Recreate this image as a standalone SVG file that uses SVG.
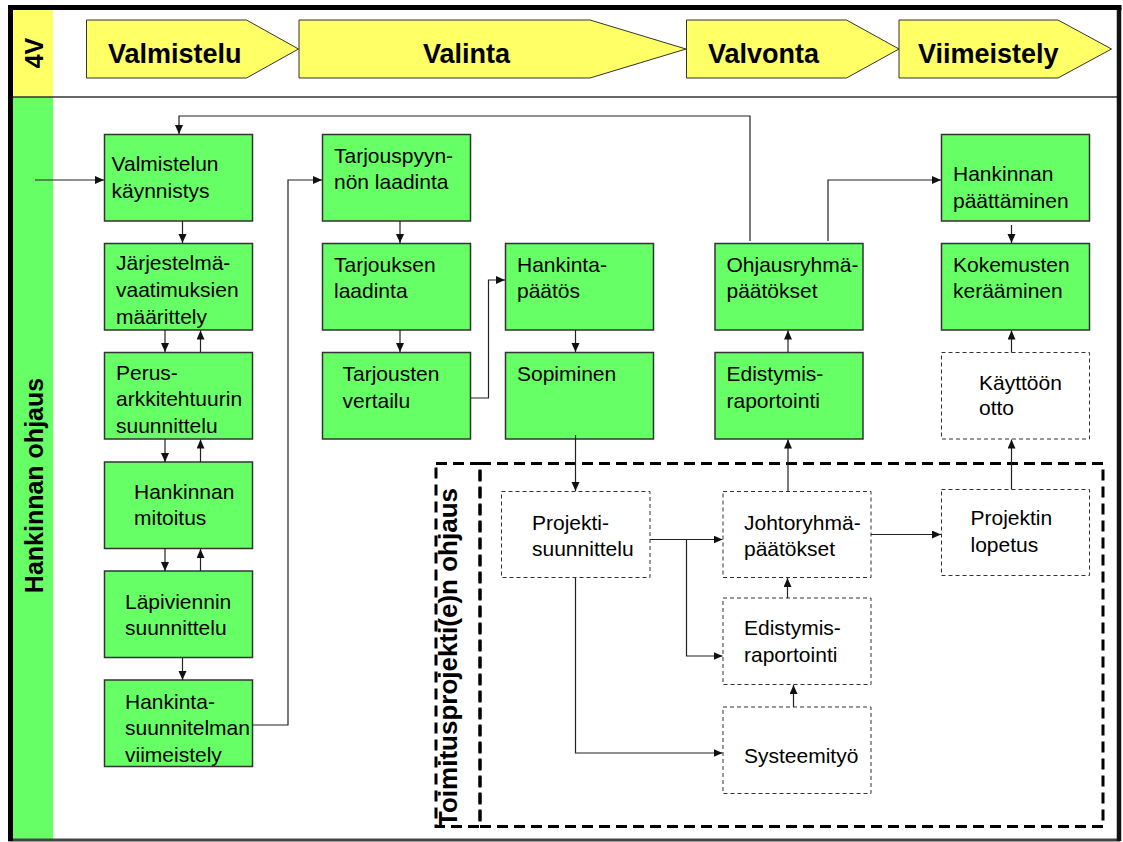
<svg xmlns="http://www.w3.org/2000/svg" width="1123" height="842" viewBox="0 0 1123 842">
<defs>
<marker id="ah" markerWidth="10" markerHeight="9" refX="9" refY="4" orient="auto" markerUnits="userSpaceOnUse">
<path d="M0,0 L9,4 L0,8 z" fill="#111"/>
</marker>
<style>
.ph{fill:#FFFF66;stroke:#333;stroke-width:1}
.phl{font-family:"Liberation Sans",Arial,sans-serif;font-weight:bold;font-size:27px;fill:#000}
.vl{font-family:"Liberation Sans",Arial,sans-serif;font-weight:bold;font-size:25px;fill:#000}
.g{fill:#66FF66;stroke:#333;stroke-width:1.5}
.d{fill:#fff;stroke:#333;stroke-width:1;stroke-dasharray:4 3}
.t{font-family:"Liberation Sans",Arial,sans-serif;font-size:21px;fill:#000}
.big{fill:none;stroke:#000;stroke-width:3;stroke-dasharray:11 6}
.c{fill:none;stroke:#222;stroke-width:1.2}
</style>
</defs>
<rect x="0" y="0" width="1123" height="842" fill="#fff"/>
<!-- frame -->
<g id="frame">
<rect x="13" y="10" width="1104" height="829" fill="#fff"/>
<rect x="13" y="10" width="40" height="87" fill="#FFFF66"/>
<rect x="13" y="97" width="40" height="742" fill="#66FF66"/>
<line x1="13" y1="97" x2="1117" y2="97" stroke="#333" stroke-width="1.5"/>
<line x1="8" y1="840" x2="1120" y2="840" stroke="#444" stroke-width="3"/>
<line x1="1119" y1="8" x2="1119" y2="841" stroke="#111" stroke-width="4.5"/>
<line x1="8" y1="7.5" x2="1121.5" y2="7.5" stroke="#000" stroke-width="5"/>
<line x1="10.5" y1="5" x2="10.5" y2="841" stroke="#000" stroke-width="5"/>
<text class="vl" text-anchor="middle" transform="translate(43,53) rotate(-90)">4V</text>
<text class="vl" text-anchor="middle" transform="translate(43,485.5) rotate(-90)">Hankinnan ohjaus</text>
</g>
<!-- phases -->
<g id="phase-valmistelu">
<polygon class="ph" points="86.5,20 246.5,20 298.5,49 246.5,78 86.5,78"/>
<text class="phl" x="108" y="63">Valmistelu</text>
</g>
<g id="phase-valinta">
<polygon class="ph" points="299,20 590,20 686,49 590,78 299,78"/>
<text class="phl" x="423" y="63">Valinta</text>
</g>
<g id="phase-valvonta">
<polygon class="ph" points="686.5,20 846.5,20 899,49 846.5,78 686.5,78"/>
<text class="phl" x="708" y="63">Valvonta</text>
</g>
<g id="phase-viimeistely">
<polygon class="ph" points="899,20 1058,20 1111.5,49 1058,78 899,78"/>
<text class="phl" x="918" y="63">Viimeistely</text>
</g>
<!-- project control area -->
<g id="toimitusprojekti">
<rect class="big" x="436" y="463.5" width="44" height="363"/>
<rect class="big" x="480" y="463.5" width="623" height="363"/>
<text class="vl" style="font-size:26px" text-anchor="middle" transform="translate(457,657.5) rotate(-90)">Toimitusprojekti(e)n ohjaus</text>
</g>
<!-- column 1 -->
<g id="n-valmistelun">
<rect class="g" x="104.5" y="134.5" width="148" height="86.5"/>
<text class="t" x="111.5" y="171">Valmistelun</text>
<text class="t" x="111.5" y="197.5">käynnistys</text>
</g>
<g id="n-jarjestelma">
<rect class="g" x="104.5" y="243.5" width="148" height="86.5"/>
<text class="t" x="116" y="270">Järjestelmä-</text>
<text class="t" x="116" y="296.5">vaatimuksien</text>
<text class="t" x="116" y="323.5">määrittely</text>
</g>
<g id="n-perus">
<rect class="g" x="104.5" y="352.5" width="148" height="86.5"/>
<text class="t" x="116" y="379.5">Perus-</text>
<text class="t" x="116" y="406">arkkitehtuurin</text>
<text class="t" x="116" y="433">suunnittelu</text>
</g>
<g id="n-mitoitus">
<rect class="g" x="104.5" y="462" width="148" height="86.5"/>
<text class="t" x="134" y="499">Hankinnan</text>
<text class="t" x="134" y="525">mitoitus</text>
</g>
<g id="n-lapiviennin">
<rect class="g" x="104.5" y="571" width="148" height="86.5"/>
<text class="t" x="125" y="608.5">Läpiviennin</text>
<text class="t" x="125" y="635">suunnittelu</text>
</g>
<g id="n-hankintasuunnitelma">
<rect class="g" x="104.5" y="680" width="148" height="86.5"/>
<text class="t" x="125" y="708.5">Hankinta-</text>
<text class="t" x="125" y="735">suunnitelman</text>
<text class="t" x="125" y="761.5">viimeistely</text>
</g>
<!-- column 2 -->
<g id="n-tarjouspyynto">
<rect class="g" x="322.5" y="134.5" width="148" height="86.5"/>
<text class="t" x="334" y="162.5">Tarjouspyyn-</text>
<text class="t" x="334" y="189">nön laadinta</text>
</g>
<g id="n-tarjouksen">
<rect class="g" x="322.5" y="243.5" width="148" height="86.5"/>
<text class="t" x="334" y="271.5">Tarjouksen</text>
<text class="t" x="334" y="298">laadinta</text>
</g>
<g id="n-tarjousten">
<rect class="g" x="322.5" y="352.5" width="148" height="86.5"/>
<text class="t" x="342.5" y="381">Tarjousten</text>
<text class="t" x="342.5" y="407.5">vertailu</text>
</g>
<!-- column 3 -->
<g id="n-hankintapaatos">
<rect class="g" x="505.5" y="243.5" width="148" height="86.5"/>
<text class="t" x="517" y="271.5">Hankinta-</text>
<text class="t" x="517" y="298">päätös</text>
</g>
<g id="n-sopiminen">
<rect class="g" x="505.5" y="352.5" width="148" height="86.5"/>
<text class="t" x="517" y="381">Sopiminen</text>
</g>
<!-- column 4 -->
<g id="n-ohjausryhma">
<rect class="g" x="715" y="243.5" width="148" height="86.5"/>
<text class="t" x="726.5" y="271.5">Ohjausryhmä-</text>
<text class="t" x="726.5" y="298">päätökset</text>
</g>
<g id="n-edistymis1">
<rect class="g" x="715" y="352.5" width="148" height="86.5"/>
<text class="t" x="726.5" y="381">Edistymis-</text>
<text class="t" x="726.5" y="407.5">raportointi</text>
</g>
<!-- column 5 -->
<g id="n-paattaminen">
<rect class="g" x="941.5" y="134.5" width="148" height="86.5"/>
<text class="t" x="953" y="181">Hankinnan</text>
<text class="t" x="953" y="207.5">päättäminen</text>
</g>
<g id="n-kokemusten">
<rect class="g" x="941.5" y="243.5" width="148" height="86.5"/>
<text class="t" x="953" y="271.5">Kokemusten</text>
<text class="t" x="953" y="298">kerääminen</text>
</g>
<g id="n-kayttoonotto">
<rect class="d" x="941.5" y="352.5" width="148" height="86.5"/>
<text class="t" x="979" y="390">Käyttöön</text>
<text class="t" x="979" y="415">otto</text>
</g>
<!-- project boxes -->
<g id="n-projektisuunnittelu">
<rect class="d" x="501.5" y="491.5" width="148.5" height="86"/>
<text class="t" x="532" y="529.5">Projekti-</text>
<text class="t" x="532" y="556">suunnittelu</text>
</g>
<g id="n-johtoryhma">
<rect class="d" x="723" y="491.5" width="148" height="86"/>
<text class="t" x="744" y="529.5">Johtoryhmä-</text>
<text class="t" x="744" y="556">päätökset</text>
</g>
<g id="n-edistymis2">
<rect class="d" x="723" y="598" width="148" height="86.5"/>
<text class="t" x="744" y="635">Edistymis-</text>
<text class="t" x="744" y="661.5">raportointi</text>
</g>
<g id="n-systeemityo">
<rect class="d" x="723" y="707" width="148" height="86.5"/>
<text class="t" x="744" y="762.5">Systeemityö</text>
</g>
<g id="n-lopetus">
<rect class="d" x="941.5" y="489.5" width="148" height="86"/>
<text class="t" x="970.5" y="525">Projektin</text>
<text class="t" x="970.5" y="551.5">lopetus</text>
</g>
<!-- connectors -->
<g id="connectors" class="c" marker-end="url(#ah)">
<path class="c" marker-end="url(#ah)" d="M35,180 H104"/>
<path class="c" marker-end="url(#ah)" d="M182.5,221 V243"/>
<path class="c" marker-end="url(#ah)" d="M165,330 V352"/>
<path class="c" marker-end="url(#ah)" d="M200.5,352 V330.5"/>
<path class="c" marker-end="url(#ah)" d="M165,439 V462"/>
<path class="c" marker-end="url(#ah)" d="M200.5,462 V439.5"/>
<path class="c" marker-end="url(#ah)" d="M165,548.5 V571"/>
<path class="c" marker-end="url(#ah)" d="M200.5,571 V549"/>
<path class="c" marker-end="url(#ah)" d="M182.5,657.5 V680"/>
<path class="c" marker-end="url(#ah)" d="M252.5,725 H288 V180 H322"/>
<path class="c" marker-end="url(#ah)" d="M400,221 V243"/>
<path class="c" marker-end="url(#ah)" d="M400,330 V352"/>
<path class="c" marker-end="url(#ah)" d="M470.5,398 H488.5 V280 H505"/>
<path class="c" marker-end="url(#ah)" d="M575.5,330 V352"/>
<path class="c" marker-end="url(#ah)" d="M575.5,435 V491"/>
<path class="c" marker-end="url(#ah)" d="M650,539.5 H722.5"/>
<path class="c" marker-end="url(#ah)" d="M686.5,539.5 V656 H722.5"/>
<path class="c" marker-end="url(#ah)" d="M575.5,578 V753 H722.5"/>
<path class="c" marker-end="url(#ah)" d="M793.5,707 V685"/>
<path class="c" marker-end="url(#ah)" d="M787.5,598 V578"/>
<path class="c" marker-end="url(#ah)" d="M788,491.5 V439.5"/>
<path class="c" marker-end="url(#ah)" d="M788,352.5 V330.5"/>
<path class="c" marker-end="url(#ah)" d="M750,241 V116 H179 V134"/>
<path class="c" marker-end="url(#ah)" d="M828,241 V180 H941"/>
<path class="c" marker-end="url(#ah)" d="M1011.5,225 V243"/>
<path class="c" marker-end="url(#ah)" d="M1011.5,352.5 V330.5"/>
<path class="c" marker-end="url(#ah)" d="M1011.5,489.5 V439.5"/>
<path class="c" marker-end="url(#ah)" d="M871,534.5 H941"/>
</g>
</svg>
